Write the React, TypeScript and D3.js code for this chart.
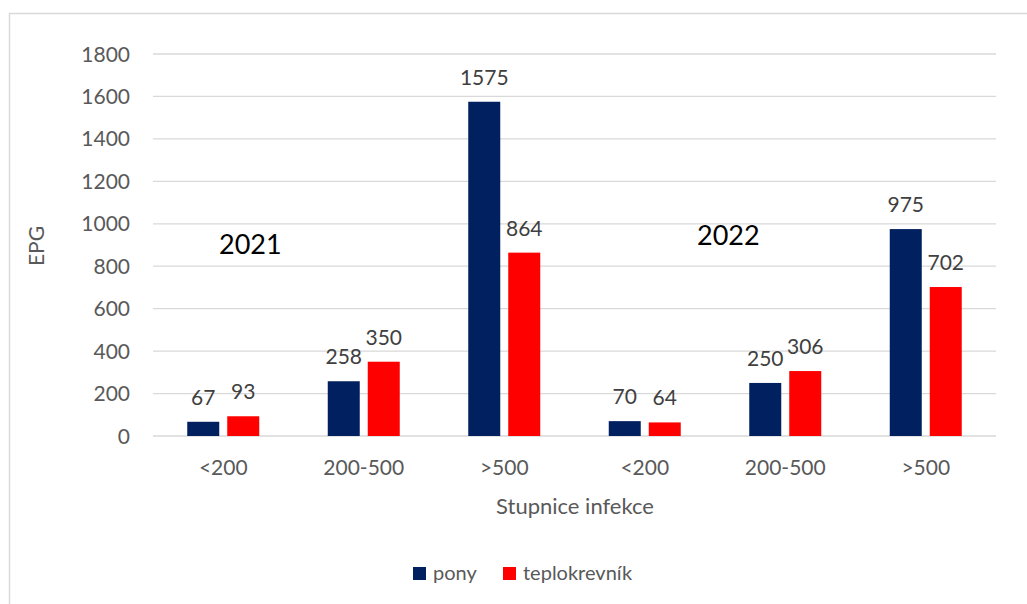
import React, { useRef, useEffect } from 'react';
import * as d3 from 'd3';

const categories = ['<200', '200-500', '>500', '<200', '200-500', '>500'];
const series = ['pony', 'teplokrevník'];
const ponyValues = [67, 258, 1575, 70, 250, 975];
const teploValues = [93, 350, 864, 64, 306, 702];
const yTicks = [0, 200, 400, 600, 800, 1000, 1200, 1400, 1600, 1800];
const colors = ['#002060', '#FF0000'];
const yearLabels = [
  { text: '2021', cat: 0 },
  { text: '2022', cat: 3 },
];

function App() {
  const svgRef = useRef<SVGSVGElement>(null);

  useEffect(() => {
    const width = 1027;
    const height = 604;
    const font = 'Lato, "Open Sans", sans-serif';
    const textColor = '#595959';
    const svg = d3.select(svgRef.current).attr('width', width).attr('height', height);
    svg.selectAll('*').remove();

    // chart frame
    svg
      .append('rect')
      .attr('x', 9.5)
      .attr('y', 13.5)
      .attr('width', 1040)
      .attr('height', 620)
      .attr('fill', 'white')
      .attr('stroke', '#d9d9d9')
      .attr('stroke-width', 1.5);

    const left = 153;
    const right = 996;
    const top = 54;
    const bottom = 436;

    const x0 = d3
      .scaleBand<number>()
      .domain(categories.map((c, i) => i))
      .range([left, right])
      .padding(0);
    const groupWidth = 72;
    const x1 = d3
      .scaleBand<number>()
      .domain([0, 1])
      .range([0, groupWidth])
      .paddingInner(0.2)
      .paddingOuter(0);
    const y = d3.scaleLinear().domain([0, 1800]).range([bottom, top]);

    // gridlines
    svg
      .selectAll('.grid')
      .data(yTicks)
      .join('line')
      .attr('class', 'grid')
      .attr('x1', left)
      .attr('x2', right)
      .attr('y1', (d) => y(d))
      .attr('y2', (d) => y(d))
      .attr('stroke', '#d9d9d9')
      .attr('stroke-width', 1.3);

    // y tick labels
    svg
      .selectAll('.ytick')
      .data(yTicks)
      .join('text')
      .attr('class', 'ytick')
      .attr('x', 130)
      .attr('y', (d) => y(d) + 7.5)
      .attr('text-anchor', 'end')
      .attr('font-family', font)
      .attr('font-size', 21)
      .attr('fill', textColor)
      .text((d) => d);

    // x category labels
    svg
      .selectAll('.xtick')
      .data(categories)
      .join('text')
      .attr('class', 'xtick')
      .attr('x', (d, i) => (x0(i) as number) + x0.bandwidth() / 2)
      .attr('y', 475)
      .attr('text-anchor', 'middle')
      .attr('font-family', font)
      .attr('font-size', 21)
      .attr('fill', textColor)
      .text((d) => d);

    // bars and labels
    const rows = [ponyValues, teploValues];
    const offset = (x0.bandwidth() - groupWidth) / 2;
    rows.forEach((values, s) => {
      const barX = (i: number) => (x0(i) as number) + offset + (x1(s) as number);
      svg
        .selectAll('.bar' + s)
        .data(values)
        .join('rect')
        .attr('class', 'bar' + s)
        .attr('x', (d, i) => barX(i))
        .attr('y', (d) => y(d))
        .attr('width', x1.bandwidth())
        .attr('height', (d) => bottom - y(d))
        .attr('fill', colors[s]);
      svg
        .selectAll('.label' + s)
        .data(values)
        .join('text')
        .attr('class', 'label' + s)
        .attr('x', (d, i) => barX(i) + x1.bandwidth() / 2)
        .attr('y', (d) => y(d) - 17)
        .attr('text-anchor', 'middle')
        .attr('font-family', font)
        .attr('font-size', 21)
        .attr('fill', '#404040')
        .text((d) => d);
    });

    // year labels (text boxes)
    svg
      .selectAll('.year')
      .data(yearLabels)
      .join('text')
      .attr('class', 'year')
      .attr('x', (d) => (d.cat === 0 ? 219 : 697))
      .attr('y', (d) => (d.cat === 0 ? 254 : 245))
      .attr('font-family', font)
      .attr('font-size', 27)
      .attr('fill', '#000')
      .text((d) => d.text);

    // axis titles
    svg
      .append('text')
      .attr('transform', 'translate(44,246) rotate(-90)')
      .attr('text-anchor', 'middle')
      .attr('font-family', font)
      .attr('font-size', 21)
      .attr('fill', textColor)
      .text('EPG');
    svg
      .append('text')
      .attr('x', 575)
      .attr('y', 514)
      .attr('text-anchor', 'middle')
      .attr('font-family', font)
      .attr('font-size', 22)
      .attr('fill', textColor)
      .text('Stupnice infekce');

    // legend
    const legendX = [413, 503];
    series.forEach((name, s) => {
      svg
        .append('rect')
        .attr('x', legendX[s])
        .attr('y', 567)
        .attr('width', 13)
        .attr('height', 13)
        .attr('fill', colors[s]);
      svg
        .append('text')
        .attr('x', legendX[s] + 20)
        .attr('y', 580)
        .attr('font-family', font)
        .attr('font-size', 20)
        .attr('fill', textColor)
        .text(name);
    });
  }, []);

  return <svg ref={svgRef} style={{ position: 'absolute', left: 0, top: 0 }} />;
}

export default App;
